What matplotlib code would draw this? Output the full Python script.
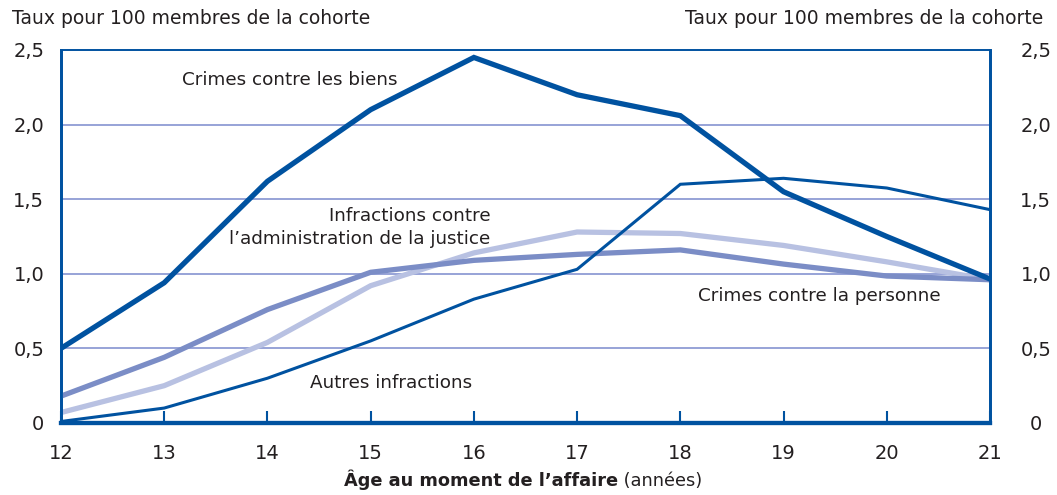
import matplotlib.pyplot as plt
from matplotlib.ticker import FuncFormatter

# --- data ---
ages = [12, 13, 14, 15, 16, 17, 18, 19, 20, 21]
biens = [0.50, 0.94, 1.62, 2.10, 2.45, 2.20, 2.06, 1.55, 1.25, 0.965]
personne = [0.01, 0.10, 0.30, 0.55, 0.83, 1.03, 1.60, 1.64, 1.575, 1.43]
admin_justice = [0.18, 0.44, 0.76, 1.01, 1.09, 1.13, 1.16, 1.065, 0.985, 0.96]
autres = [0.07, 0.25, 0.54, 0.92, 1.14, 1.28, 1.27, 1.19, 1.08, 0.96]
yticks = [0, 0.5, 1.0, 1.5, 2.0, 2.5]

dark = '#0052a0'
mid = '#7b8dc6'
light = '#b8c1e2'
grid = '#8f9cd4'
txt = '#231f20'

plt.rcParams['font.family'] = ['DejaVu Sans']

fig = plt.figure(figsize=(10.57, 4.95), dpi=100)
ax = fig.add_axes([0.0577, 0.1455, 0.8789, 0.7535])

for y in yticks[1:-1]:
    ax.axhline(y, color=grid, lw=1.3, zorder=1)

ax.plot(ages, autres, color=light, lw=3.8, zorder=2, solid_joinstyle='miter')
ax.plot(ages, admin_justice, color=mid, lw=3.8, zorder=3, solid_joinstyle='miter')
ax.plot(ages, personne, color=dark, lw=2.2, zorder=4, solid_joinstyle='miter')
ax.plot(ages, biens, color=dark, lw=3.8, zorder=5, solid_joinstyle='miter')

ax.set_xlim(12, 21)
ax.set_ylim(0, 2.5)
ax.set_xticks(ages)
ax.set_yticks(yticks)

fmt = FuncFormatter(lambda v, p: '0' if v == 0 else f'{v:.1f}'.replace('.', ','))
ax.yaxis.set_major_formatter(fmt)
ax.tick_params(axis='x', direction='in', length=9, width=1.5, color=dark,
               labelsize=14, labelcolor=txt, pad=15)
ax.tick_params(axis='y', length=0, labelsize=14, labelcolor=txt, pad=12)

# right-hand labels, centred a bit away from the spine
ax2 = ax.twinx()
ax2.set_ylim(0, 2.5)
ax2.set_yticks(yticks)
ax2.yaxis.set_major_formatter(fmt)
ax2.tick_params(axis='y', length=0, labelsize=14, labelcolor=txt, pad=33)
for lbl in ax2.get_yticklabels():
    lbl.set_horizontalalignment('center')

for a in (ax, ax2):
    for side, w in [('left', 2), ('right', 2), ('bottom', 3), ('top', 1.2)]:
        a.spines[side].set_color(dark)
        a.spines[side].set_linewidth(w)

fig.text(0.011, 0.963, 'Taux pour 100 membres de la cohorte', fontsize=13.5,
         color=txt, ha='left', va='center')
fig.text(0.987, 0.963, 'Taux pour 100 membres de la cohorte', fontsize=13.5,
         color=txt, ha='right', va='center')

t1 = fig.text(0.455, 0.03, 'Âge au moment de l\u2019affaire', fontsize=12.8,
              fontweight='bold', color=txt, ha='center', va='center')
ax.annotate(' (années)', xy=(1, 0), xycoords=t1, fontsize=12.8, color=txt,
            ha='left', va='bottom')

lab = dict(fontsize=13.2, color=txt, va='center')
ax.text(14.22, 2.30, 'Crimes contre les biens', ha='center', **lab)
ax.text(16.16, 1.31, 'Infractions contre\nl\u2019administration de la justice',
        ha='right', multialignment='right', linespacing=1.3, **lab)
ax.text(19.35, 0.85, 'Crimes contre la personne', ha='center', **lab)
ax.text(15.20, 0.27, 'Autres infractions', ha='center', **lab)

fig.savefig('out.png', dpi=100)
